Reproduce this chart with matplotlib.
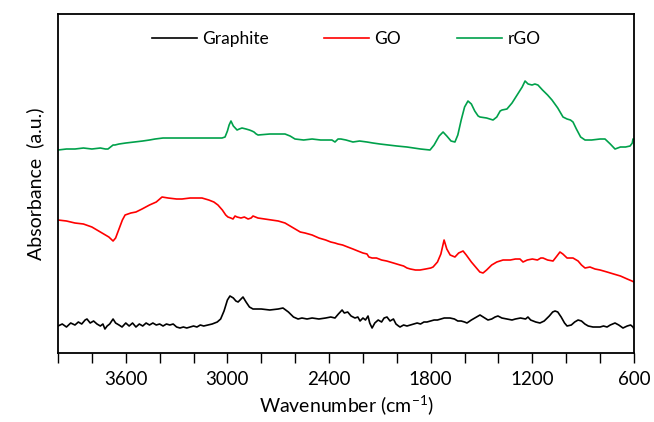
import matplotlib
matplotlib.use("Agg")
import matplotlib.pyplot as plt
from matplotlib.ticker import MultipleLocator, FixedLocator

# Graphite spectrum (wavenumber cm-1, absorbance a.u.)
graphite_wn = [4000, 3975, 3950, 3925, 3900, 3880, 3860, 3840, 3829, 3810, 3790, 3770, 3750, 3735, 3723,
               3710, 3695, 3675, 3660, 3640, 3622, 3600, 3580, 3560, 3540, 3520, 3500, 3480, 3460, 3440,
               3420, 3400, 3380, 3360, 3340, 3320, 3300, 3280, 3260, 3240, 3220, 3200, 3180, 3160, 3140,
               3115, 3090, 3060, 3040, 3020, 3000, 2985, 2965, 2950, 2937, 2920, 2908, 2890, 2870, 2849,
               2800, 2750, 2700, 2672, 2640, 2610, 2583, 2560, 2530, 2500, 2460, 2420, 2390, 2365, 2345,
               2323, 2310, 2290, 2270, 2247, 2230, 2217, 2200, 2185, 2170, 2160, 2146, 2130, 2110, 2090,
               2075, 2058, 2040, 2020, 2005, 1990, 1981, 1960, 1940, 1920, 1900, 1880, 1860, 1840, 1822,
               1800, 1780, 1760, 1740, 1720, 1700, 1686, 1660, 1640, 1620, 1600, 1586, 1560, 1530, 1509,
               1490, 1462, 1440, 1420, 1403, 1380, 1350, 1320, 1300, 1270, 1240, 1226, 1210, 1180, 1155,
               1130, 1100, 1080, 1066, 1050, 1030, 1010, 995, 970, 950, 930, 910, 890, 870, 842,
               800, 780, 759, 740, 712, 690, 665, 640, 620, 606, 600]
graphite_abs = [0.27, 0.29, 0.26, 0.30, 0.28, 0.31, 0.29, 0.33, 0.34, 0.30, 0.32, 0.29, 0.27, 0.29, 0.24,
                0.27, 0.29, 0.34, 0.30, 0.28, 0.26, 0.30, 0.27, 0.30, 0.26, 0.29, 0.27, 0.30, 0.28, 0.30,
                0.28, 0.29, 0.27, 0.29, 0.28, 0.29, 0.26, 0.25, 0.26, 0.25, 0.26, 0.27, 0.26, 0.28, 0.27,
                0.28, 0.29, 0.31, 0.34, 0.42, 0.53, 0.57, 0.55, 0.52, 0.51, 0.54, 0.56, 0.51, 0.46, 0.44,
                0.44, 0.43, 0.44, 0.45, 0.41, 0.36, 0.34, 0.35, 0.34, 0.35, 0.34, 0.35, 0.36, 0.35, 0.39,
                0.43, 0.40, 0.41, 0.37, 0.35, 0.36, 0.32, 0.35, 0.33, 0.37, 0.30, 0.25, 0.30, 0.33, 0.31,
                0.35, 0.36, 0.32, 0.34, 0.29, 0.27, 0.26, 0.28, 0.27, 0.28, 0.29, 0.30, 0.29, 0.31, 0.31,
                0.32, 0.33, 0.33, 0.34, 0.35, 0.35, 0.35, 0.34, 0.32, 0.32, 0.31, 0.30, 0.33, 0.36, 0.38,
                0.36, 0.33, 0.34, 0.36, 0.37, 0.35, 0.34, 0.33, 0.34, 0.35, 0.34, 0.36, 0.33, 0.31, 0.30,
                0.32, 0.37, 0.41, 0.42, 0.41, 0.36, 0.30, 0.27, 0.28, 0.31, 0.33, 0.32, 0.29, 0.27, 0.26,
                0.26, 0.27, 0.26, 0.28, 0.30, 0.28, 0.25, 0.27, 0.28, 0.26, 0.24]

# GO spectrum
go_wn = [4000, 3950, 3900, 3850, 3800, 3750, 3700, 3675, 3660, 3640, 3620, 3604, 3570, 3540, 3504,
         3460, 3420, 3386, 3350, 3300, 3268, 3220, 3180, 3150, 3110, 3080, 3056, 3030, 3010, 2997,
         2980, 2967, 2955, 2943, 2920, 2900, 2878, 2860, 2849, 2820, 2780, 2740, 2700, 2660, 2630,
         2600, 2570, 2542, 2500, 2460, 2420, 2390, 2365, 2347, 2320, 2290, 2259, 2230, 2200, 2176,
         2165, 2146, 2120, 2090, 2060, 2020, 1981, 1960, 1940, 1920, 1890, 1863, 1830, 1800, 1786,
         1760, 1740, 1721, 1705, 1685, 1657, 1635, 1609, 1590, 1560, 1530, 1510, 1491, 1470, 1440,
         1410, 1373, 1330, 1300, 1273, 1255, 1230, 1200, 1170, 1150, 1137, 1110, 1078, 1055, 1037,
         1020, 995, 960, 930, 910, 889, 860, 830, 800, 759, 720, 680, 640, 612, 600]
go_abs = [1.33, 1.32, 1.30, 1.29, 1.26, 1.21, 1.16, 1.12, 1.15, 1.24, 1.33, 1.38, 1.40, 1.41, 1.44,
          1.48, 1.51, 1.56, 1.55, 1.54, 1.54, 1.55, 1.55, 1.55, 1.53, 1.51, 1.48, 1.43, 1.38, 1.36,
          1.35, 1.34, 1.37, 1.36, 1.35, 1.36, 1.34, 1.35, 1.37, 1.35, 1.34, 1.33, 1.32, 1.30, 1.27,
          1.24, 1.21, 1.20, 1.18, 1.15, 1.13, 1.11, 1.10, 1.09, 1.08, 1.06, 1.04, 1.02, 1.00, 0.99,
          0.96, 0.95, 0.95, 0.93, 0.92, 0.90, 0.88, 0.87, 0.85, 0.84, 0.83, 0.83, 0.84, 0.85, 0.86,
          0.91, 0.99, 1.13, 1.04, 0.98, 0.96, 1.00, 1.02, 0.98, 0.91, 0.85, 0.81, 0.80, 0.83, 0.88,
          0.91, 0.93, 0.93, 0.94, 0.94, 0.91, 0.93, 0.94, 0.93, 0.95, 0.95, 0.93, 0.92, 0.97, 1.01,
          0.99, 0.95, 0.95, 0.92, 0.88, 0.85, 0.86, 0.84, 0.83, 0.81, 0.79, 0.77, 0.74, 0.72, 0.71]

# rGO spectrum
rgo_wn = [4000, 3950, 3900, 3850, 3800, 3750, 3720, 3705, 3690, 3675, 3664, 3640, 3600, 3550, 3500,
          3460, 3427, 3380, 3300, 3200, 3100, 3032, 3014, 3000, 2990, 2979, 2965, 2943, 2930, 2914,
          2890, 2870, 2855, 2843, 2830, 2819, 2750, 2700, 2660, 2630, 2601, 2550, 2500, 2450, 2383,
          2365, 2347, 2330, 2300, 2259, 2220, 2176, 2141, 2100, 2050, 2000, 1940, 1900, 1860, 1804,
          1780, 1750, 1727, 1705, 1680, 1657, 1640, 1620, 1600, 1580, 1560, 1540, 1520, 1509, 1470,
          1432, 1410, 1390, 1379, 1350, 1320, 1290, 1260, 1243, 1225, 1202, 1185, 1167, 1140, 1110,
          1084, 1050, 1019, 995, 975, 960, 940, 915, 889, 850, 800, 771, 740, 712, 680,
          650, 623, 610, 606, 600]
rgo_abs = [2.03, 2.04, 2.04, 2.05, 2.04, 2.05, 2.04, 2.04, 2.06, 2.08, 2.08, 2.09, 2.10, 2.11, 2.12,
           2.13, 2.14, 2.15, 2.15, 2.15, 2.15, 2.15, 2.16, 2.22, 2.28, 2.32, 2.27, 2.23, 2.24, 2.25,
           2.24, 2.23, 2.22, 2.21, 2.19, 2.18, 2.19, 2.19, 2.19, 2.17, 2.14, 2.13, 2.14, 2.13, 2.13,
           2.11, 2.14, 2.14, 2.13, 2.11, 2.12, 2.11, 2.10, 2.09, 2.08, 2.07, 2.06, 2.05, 2.04, 2.03,
           2.08, 2.17, 2.21, 2.17, 2.12, 2.11, 2.18, 2.33, 2.46, 2.52, 2.49, 2.42, 2.37, 2.36, 2.35,
           2.33, 2.36, 2.42, 2.43, 2.44, 2.50, 2.58, 2.66, 2.72, 2.69, 2.68, 2.69, 2.68, 2.63, 2.58,
           2.53, 2.45, 2.36, 2.34, 2.33, 2.31, 2.24, 2.16, 2.13, 2.13, 2.14, 2.14, 2.09, 2.04, 2.06,
           2.06, 2.07, 2.10, 2.14, 2.14]

x_ticks = [3600, 3000, 2400, 1800, 1200, 600]


def make_chart():
    plt.rcParams["font.family"] = ["Lato", "DejaVu Sans"]

    fig = plt.figure(figsize=(6.54, 4.22), dpi=100)
    ax = fig.add_axes([0.0887, 0.1635, 0.8807, 0.8033])

    ax.plot(graphite_wn, graphite_abs, color="black", lw=1.2, label="Graphite")
    ax.plot(go_wn, go_abs, color="#FF0000", lw=1.2, label="GO")
    ax.plot(rgo_wn, rgo_abs, color="#00A14B", lw=1.2, label="rGO")

    ax.set_xlim(4000, 600)
    ax.set_ylim(0, 3.39)

    ax.xaxis.set_major_locator(FixedLocator(x_ticks))
    ax.xaxis.set_minor_locator(MultipleLocator(200))
    ax.tick_params(axis="x", which="both", direction="out", length=7, width=1,
                   labelsize=13.5, pad=6)
    ax.tick_params(axis="y", left=False, labelleft=False)

    for sp in ax.spines.values():
        sp.set_linewidth(1.3)

    ax.set_xlabel("Wavenumber (cm$^{\\mathregular{-1}}$)", fontsize=14, labelpad=4)
    ax.set_ylabel("Absorbance  (a.u.)", fontsize=14, labelpad=10)

    ax.legend(loc="upper center", ncol=3, frameon=False, fontsize=12.5,
              handlelength=2.6, handletextpad=0.3, columnspacing=3.2,
              bbox_to_anchor=(0.5, 0.995))

    fig.savefig("out.png", dpi=100)
    plt.close(fig)


if __name__ == "__main__":
    make_chart()
